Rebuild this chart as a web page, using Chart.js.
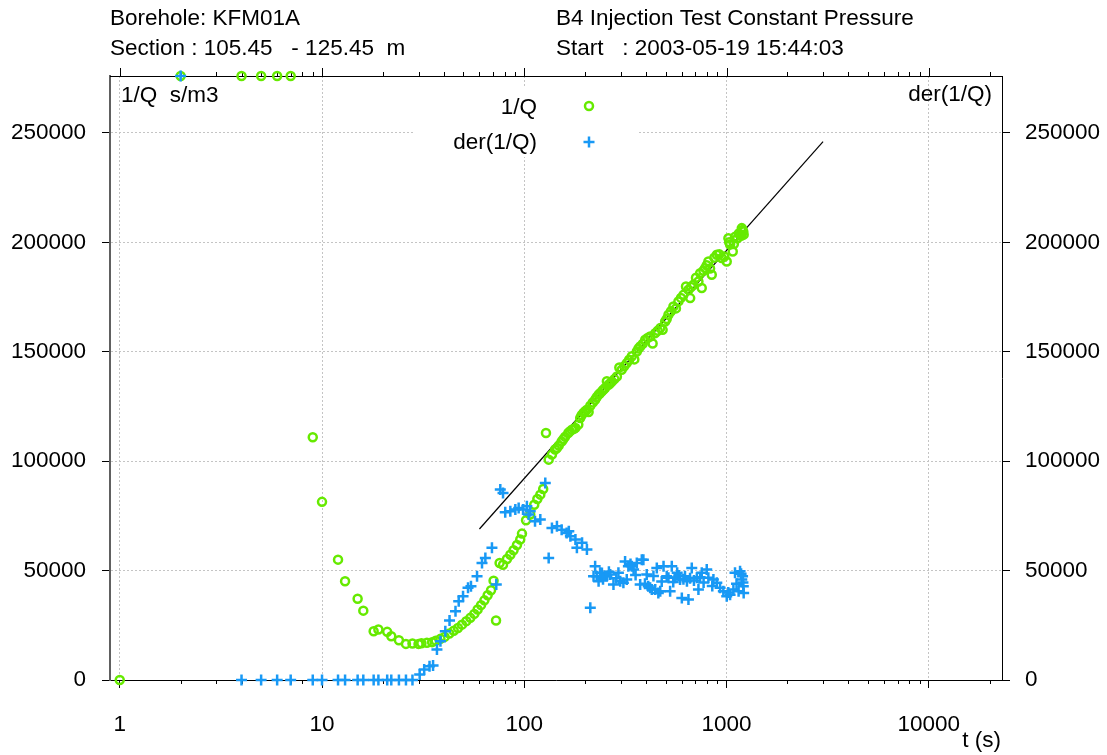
<!DOCTYPE html>
<html>
<head>
<meta charset="utf-8">
<title>KFM01A B4 injection test</title>
<script src="https://cdn.jsdelivr.net/npm/chart.js@4.4.1/dist/chart.umd.min.js"></script>
<style>
  html, body { margin: 0; padding: 0; background: #fff; }
</style>
</head>
<body>
<canvas id="chart" width="1107" height="755"></canvas>
<script>
// 1/Q series (green circles), time in s
const qTime = [1, 2, 4, 5, 6, 7, 9, 10, 12, 13, 15, 16, 18, 19, 21, 22, 24, 26, 28, 30,
  31, 33, 35, 36.5, 38.5, 40.4, 42.6, 44.8, 47, 49.2, 51.7, 54.1, 56.6, 58.8, 61.1, 63.5,
  65.9, 68.5, 70.5, 72.5, 75.5, 78.5, 82.1, 85.3, 88.5, 92, 95.5, 97.4, 102, 107, 112, 116,
  120, 124, 128, 132, 137, 142, 145, 148, 153, 156, 159, 165, 168, 172, 176, 179, 185, 189,
  192, 196, 200, 204, 208, 212, 218, 224, 228, 233, 237, 242, 246, 251, 256, 261, 266, 271,
  279, 287, 295, 303, 312, 321, 330, 340, 350, 360, 367, 374, 385, 396, 407, 419, 431, 444,
  457, 470, 483, 497, 506, 516, 531, 546, 562, 578, 595, 612, 630, 648, 661, 667, 686, 706,
  726, 740, 754, 768, 783, 798, 813, 829, 845, 870, 895, 921, 947, 975, 1002, 1021, 1030,
  1041, 1073, 1087, 1101, 1130, 1150, 1166, 1180, 1189, 1200, 1210, 1215];
const qValues = [0, 276000, 276000, 276000, 276000, 276000, 110900, 81400, 55000, 45100,
  37100, 31700, 22300, 23100, 22000, 20000, 18200, 16500, 16700, 16500,
  16800, 17000, 17300, 17900, 18800, 19700, 21200, 22500, 23800, 25300, 26900, 28400, 30200,
  32200, 34200, 36400, 38700, 41000, 45400, 27200, 53500, 52700, 55300, 57200, 59300, 61700,
  64200, 66900, 73000, 75600, 80100, 82700, 84700, 87300, 112900, 100700, 103000, 105300,
  106000, 107100, 109000, 110000, 111100, 112900, 113600, 114400, 114800, 115200, 116700,
  119700, 121000, 122000, 122800, 123500, 122500, 125300, 126800, 128100, 129200, 130400,
  131000, 131900, 132600, 133400, 136500, 134900, 135600, 136400, 137500, 138700, 142800,
  141800, 143400, 144800, 146300, 147900, 146500, 150100, 151500, 152400, 153600, 155500,
  156300, 157000, 153800, 158500, 159600, 160800, 160000, 163800, 165000, 166900, 168500,
  170700, 169800, 173000, 174600, 176000, 179800, 178300, 174500, 179600, 180600, 183800,
  182100, 185900, 179100, 187000, 188200, 189500, 191200, 188000, 185200, 193000, 194300,
  194500, 192800, 193500, 191200, 201900, 200000, 199000, 195800, 199200, 202500, 201800,
  204000, 203400, 203000, 206500, 205600, 204900, 203500];

// der(1/Q) series (blue crosses)
const derTime = [2, 4, 5, 6, 7, 9, 10, 12, 13, 15, 16, 18, 19, 21, 22, 24, 26, 28,
  30.4, 32, 34, 35.4, 37, 38.5, 40.7, 42.7, 45.7, 47.4, 49.8, 52.7, 54.5, 58.4, 61.8, 64.2,
  69.2, 72.7, 76.1, 78.5, 80.5, 85.3, 90.3, 93.8, 98.6, 103, 105, 107, 113, 120, 127, 132,
  137, 145, 153, 162, 166, 169, 179, 182, 193, 204, 212, 220, 224, 228, 233, 237, 242, 245,
  251, 256, 262, 266, 276, 285, 292, 298, 309, 315, 321, 327, 335, 340, 347, 355, 360, 374,
  381, 388, 395, 403, 410, 419, 427, 435, 444, 452, 460, 470, 478, 488, 506, 516, 526, 536,
  545, 557, 570, 580, 589, 601, 612, 623, 637, 648, 660, 673, 690, 713, 726, 740, 754, 770,
  798, 813, 850, 861, 895, 929, 964, 1002, 1020, 1041, 1081, 1101, 1120, 1147, 1166, 1180,
  1189, 1200, 1205, 1210, 1215];
const derValues = [276000, 0, 0, 0, 0, 0, 0, 0, 0, 0, 0, 0, 0, 0, 0, 0, 0, 0,
  2500, 4800, 6300, 6600, 13900, 17700, 22300, 27200, 31400, 36000, 38300, 42100, 42800,
  47400, 53500, 55800, 60400, 43600, 87000, 85500, 76600, 77100, 77900, 78600, 77900, 79400,
  75600, 77100, 72500, 73300, 90000, 55800, 69500, 70200, 68700, 67200, 68000, 65700, 64200,
  60400, 62700, 59600, 33000, 47400, 52000, 47400, 45100, 49000, 48900, 46000,
  47400, 47400, 49500, 48200, 43600, 46500, 49000, 45100, 44400, 54200, 45900, 52000, 53000,
  52000, 50500, 48000, 53500, 43600, 55000, 55000, 44000, 48200, 42800, 42100, 41300, 47500,
  41300, 51200, 39800, 40500, 45000, 52000, 47400, 46700, 40600, 52000, 44800, 46700, 49000,
  47800, 45900, 37500, 46000, 47400, 45100, 36800, 46500, 51200, 45500, 46700, 41300, 47000,
  49000, 44500, 50500, 46700, 43000, 45900, 44400, 42100, 40600, 38300, 40000, 39000, 41300,
  49000, 44000, 40600, 49700, 48500, 45900, 47400, 44500, 42800, 39800];

// straight line fit
const fitTime = [60, 3000];
const fitValues = [69000, 246000];

const yTicks = [0, 50000, 100000, 150000, 200000, 250000];
const xDecades = [1, 10, 100, 1000, 10000];
const xMin = 0.895;
const xMax = 23000;
const yMax = 276000;

const green = '#66ea00';
const blue = '#1899f5';
const font = '"Liberation Sans", Arial, sans-serif';
const fontSize = 22.5;

function isDecade(v) {
  const l = Math.log10(v);
  return Math.abs(l - Math.round(l)) < 1e-9;
}

function xTickList() {
  const list = [];
  xDecades.forEach(d => {
    for (let m = 1; m <= 9; m++) {
      const v = d * m;
      if (v >= xMin && v <= xMax) list.push({ value: v });
    }
  });
  return list;
}

// frame on top, minor ticks, labels, legend
const framePlugin = {
  id: 'frame',
  beforeDatasetsDraw(chart) {
    const ctx = chart.ctx;
    const a = chart.chartArea;
    const x = chart.scales.x;
    ctx.save();
    ctx.strokeStyle = '#000';
    ctx.lineWidth = 1;
    ctx.beginPath();
    ctx.moveTo(a.left, a.top + 0.5);
    ctx.lineTo(a.right, a.top + 0.5);
    x.ticks.forEach(t => {
      const px = Math.round(x.getPixelForValue(t.value)) + 0.5;
      const len = isDecade(t.value) ? 8 : 4;
      ctx.moveTo(px, a.top);
      ctx.lineTo(px, a.top - len);
      if (!isDecade(t.value)) {
        ctx.moveTo(px, a.bottom);
        ctx.lineTo(px, a.bottom + 4);
      }
    });
    ctx.stroke();
    ctx.restore();
  },
  afterDraw(chart) {
    const ctx = chart.ctx;
    ctx.save();
    ctx.fillStyle = '#000';
    ctx.font = fontSize + 'px ' + font;
    ctx.textBaseline = 'alphabetic';
    ctx.textAlign = 'left';
    ctx.fillText('Borehole: KFM01A', 110, 25);
    ctx.fillText('Section : 105.45   - 125.45  m', 110, 55);
    ctx.fillText('B4 Injection Test Constant Pressure', 556, 25);
    ctx.fillText('Start   : 2003-05-19 15:44:03', 556, 55);
    ctx.fillText('1/Q  s/m3', 121, 102);
    ctx.textAlign = 'right';
    ctx.fillText('der(1/Q)', 992, 101);
    ctx.fillText('t (s)', 1001, 747);

    // legend
    ctx.fillStyle = '#fff';
    ctx.fillRect(415, 86, 222, 71);
    ctx.fillStyle = '#000';
    ctx.fillText('1/Q', 537, 114);
    ctx.fillText('der(1/Q)', 537, 149);
    ctx.lineWidth = 2.5;
    ctx.strokeStyle = green;
    ctx.beginPath();
    ctx.arc(589, 106, 4, 0, Math.PI * 2);
    ctx.stroke();
    ctx.strokeStyle = blue;
    ctx.beginPath();
    ctx.moveTo(583.5, 142); ctx.lineTo(594.5, 142);
    ctx.moveTo(589, 136.5); ctx.lineTo(589, 147.5);
    ctx.stroke();
    ctx.restore();
  }
};

const qData = qTime.map((t, i) => ({ x: t, y: qValues[i] }));
const derData = derTime.map((t, i) => ({ x: t, y: derValues[i] }));
const fitData = fitTime.map((t, i) => ({ x: t, y: fitValues[i] }));

const yTickOptions = {
  color: '#000',
  font: { family: font, size: fontSize },
  callback: v => String(v)
};

new Chart(document.getElementById('chart'), {
  type: 'scatter',
  data: {
    datasets: [
      {
        label: 'der(1/Q)',
        data: derData,
        order: 0,
        pointStyle: 'cross',
        pointRadius: 5.5,
        pointBorderWidth: 2.5,
        borderColor: blue,
        backgroundColor: blue,
        clip: false
      },
      {
        label: '1/Q',
        data: qData,
        order: 1,
        pointStyle: 'circle',
        pointRadius: 4,
        pointBorderWidth: 2.5,
        borderColor: green,
        backgroundColor: 'rgba(0,0,0,0)',
        clip: false
      },
      {
        type: 'line',
        label: 'fit',
        data: fitData,
        order: 2,
        showLine: true,
        borderColor: '#000',
        borderWidth: 1.2,
        pointRadius: 0
      }
    ]
  },
  options: {
    responsive: false,
    devicePixelRatio: 1,
    animation: false,
    layout: { padding: { top: 76, left: 0, right: 0, bottom: 0 } },
    plugins: {
      legend: { display: false },
      tooltip: { enabled: false }
    },
    scales: {
      x: {
        type: 'logarithmic',
        position: 'bottom',
        min: xMin,
        max: xMax,
        afterBuildTicks: scale => { scale.ticks = xTickList(); },
        afterFit: scale => { scale.height = 75; },
        border: { color: '#000', width: 1, dash: [2, 2] },
        grid: {
          color: c => isDecade(c.tick.value) ? '#c4c4c4' : 'rgba(0,0,0,0)',
          tickColor: c => isDecade(c.tick.value) ? '#000' : 'rgba(0,0,0,0)',
          tickLength: 8,
          lineWidth: 1
        },
        ticks: {
          color: '#000',
          font: { family: font, size: fontSize },
          autoSkip: false,
          maxRotation: 0,
          minRotation: 0,
          padding: 23,
          callback: v => isDecade(v) ? String(v) : ''
        }
      },
      y: {
        position: 'left',
        min: 0,
        max: yMax,
        afterBuildTicks: scale => { scale.ticks = yTicks.map(v => ({ value: v })); },
        afterFit: scale => { scale.width = 110; },
        border: { color: '#606060', width: 2, dash: [2, 2] },
        grid: { color: '#c4c4c4', tickColor: '#000', tickLength: 8 },
        ticks: Object.assign({ padding: 16 }, yTickOptions)
      },
      y2: {
        position: 'right',
        min: 0,
        max: yMax,
        afterBuildTicks: scale => { scale.ticks = yTicks.map(v => ({ value: v })); },
        afterFit: scale => { scale.width = 105; },
        border: { color: '#000', width: 1 },
        grid: { drawOnChartArea: false, tickColor: '#000', tickLength: 8 },
        ticks: Object.assign({ padding: 15 }, yTickOptions)
      }
    }
  },
  plugins: [framePlugin]
});
</script>
</body>
</html>
